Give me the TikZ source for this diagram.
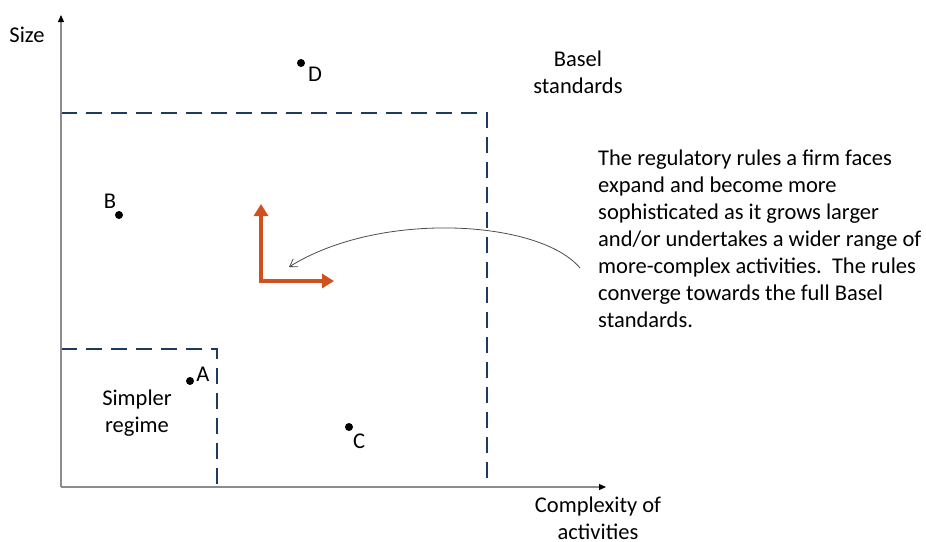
\documentclass[tikz,border=0pt]{standalone}
\usepackage{fontspec}
\setmainfont{Carlito}
\usetikzlibrary{arrows.meta}
\definecolor{navy}{HTML}{1F3A5F}
\definecolor{axisgray}{HTML}{8C8C8C}
\definecolor{redarrow}{HTML}{D0501E}
\tikzset{
  axis/.style={draw=axisgray, line width=1.3pt, -{Triangle[length=7pt,width=6pt,color=black]}},
  regime/.style={draw=navy, line width=2pt, dash pattern=on 16pt off 9pt},
  dot/.style={circle, fill=black, inner sep=0pt, minimum size=8pt},
  lbl/.style={font=\fontsize{22.5}{27}\selectfont, inner sep=0pt},
  redarr/.style={draw=redarrow, line width=4pt, -{Triangle[length=12pt,width=14pt]}},
  curve/.style={draw=black!70, line width=0.8pt, -{Straight Barb[length=7pt,width=9pt]}}
}
\begin{document}
\begin{tikzpicture}[x=1pt,y=-1pt]
\useasboundingbox (0,0) rectangle (926,541);
\coordinate (O) at (61,487);
\coordinate (ytop) at (61,15);
\coordinate (xend) at (606,487);
% dashed regimes
\draw[regime] (61,113) -- (487,113) -- (487,487);
\draw[regime] (61,349) -- (217,349) -- (217,487);
% axes
\draw[axis] (O) -- (ytop);
\draw[axis] (O) -- (xend);
% labels
\node[lbl] (size) at (27,35) {Size};
\node[lbl, align=center] (basel) at (578,72) {Basel\\standards};
\node[lbl, align=center] (simpler) at (137,413) {Simpler\\regime};
\node[lbl, align=center] (cx) at (598,518) {Complexity of\\activities};
% points
\node[dot] (D) at (301,63) {};
\node[lbl] (Dl) at (315,74) {D};
\node[dot] (B) at (119,215) {};
\node[lbl] (Bl) at (110,201) {B};
\node[dot] (A) at (190,381) {};
\node[lbl] (Al) at (203,374) {A};
\node[dot] (C) at (349,427) {};
\node[lbl] (Cl) at (359,441) {C};
% red arrows
\coordinate (corner) at (261,281);
\coordinate (rtop) at (261,204);
\coordinate (rright) at (334,281);
\draw[redarr] (corner) -- (rtop);
\draw[redarr] (corner) -- (rright);
\draw[draw=redarrow, line width=4pt] (261,283) -- (261,279);
% text
\node[lbl, anchor=north west, align=left] (txt) at (598,150)
 {The regulatory rules a firm faces\\expand and become more\\sophisticated as it grows larger\\and/or undertakes a wider range of\\more-complex activities.\ \ The rules\\converge towards the full Basel\\standards.};
% curved arrow
\coordinate (cs) at (580,268);
\coordinate (ce) at (289,267);
\draw[curve] (cs) .. controls (540,220) and (380,210) .. (ce);
\end{tikzpicture}
\end{document}
